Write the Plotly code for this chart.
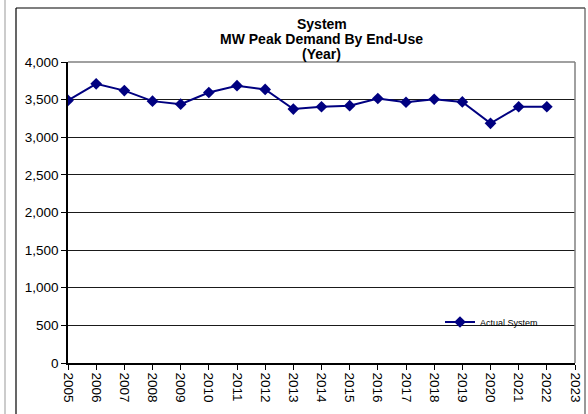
import plotly.graph_objects as go

years = list(range(2005, 2023))
actual_system = [3490, 3710, 3620, 3480, 3440, 3595, 3685, 3635, 3375, 3405,
                 3420, 3515, 3465, 3505, 3470, 3185, 3405, 3405]
x_ticks = list(range(2005, 2024))
y_ticks = [0, 500, 1000, 1500, 2000, 2500, 3000, 3500, 4000]
title_lines = ["System", "MW Peak Demand By End-Use", "(Year)"]

W, H = 588, 414
L, R, T, B = 68, 13, 62, 51
pw, ph = W - L - R, H - T - B

def px(x):
    return (x - L) / pw

def py(y):
    return (H - B - y) / ph

fig = go.Figure()
fig.add_trace(go.Scatter(
    x=years, y=actual_system, mode="lines+markers", name="Actual System",
    line=dict(color="#000080", width=2),
    marker=dict(symbol="diamond", size=9, color="#000080"),
))

annotations = []
for i, t in enumerate(title_lines):
    annotations.append(dict(
        text="<b>%s</b>" % t, xref="paper", yref="paper", x=0.5, y=py(24 + 15 * i),
        xanchor="center", yanchor="middle", showarrow=False,
        font=dict(size=14, family="Liberation Sans, Arial", color="black"),
    ))

fig.update_layout(
    width=W, height=H,
    margin=dict(l=L, r=R, t=T, b=B),
    paper_bgcolor="white", plot_bgcolor="white",
    font=dict(family="Liberation Sans, Arial", size=13, color="black"),
    annotations=annotations,
    xaxis=dict(
        range=[2005, 2023], tickvals=x_ticks, ticktext=[str(v) for v in x_ticks],
        tickangle=90, ticks="outside", ticklen=5, tickcolor="black",
        showline=True, linecolor="black", linewidth=1.5, mirror=False,
        showgrid=False, zeroline=False, automargin=False,
        tickfont=dict(size=13.5),
    ),
    yaxis=dict(
        range=[0, 4000], tickvals=y_ticks, tickformat=",",
        ticks="outside", ticklen=5, tickcolor="black",
        showline=True, linecolor="black", linewidth=1.5,
        showgrid=True, gridcolor="#1a1a1a", gridwidth=1, zeroline=False,
        automargin=False, tickfont=dict(size=13.5),
    ),
    showlegend=True,
    legend=dict(
        x=px(440), y=py(322), xanchor="left", yanchor="middle",
        bgcolor="rgba(0,0,0,0)", font=dict(size=9),
        itemwidth=30,
    ),
    shapes=[
        dict(type="line", xref="paper", yref="paper", x0=0, x1=1, y0=1, y1=1,
             line=dict(color="#808080", width=1.5)),
        dict(type="line", xref="paper", yref="paper", x0=1, x1=1, y0=0, y1=1,
             line=dict(color="#808080", width=1.5)),
        dict(type="line", xref="paper", yref="paper", x0=px(16), x1=px(585),
             y0=py(8), y1=py(8), line=dict(color="black", width=1.2)),
        dict(type="line", xref="paper", yref="paper", x0=px(16), x1=px(16),
             y0=py(8), y1=py(420), line=dict(color="black", width=1.2)),
        dict(type="line", xref="paper", yref="paper", x0=px(585), x1=px(585),
             y0=py(8), y1=py(420), line=dict(color="#555555", width=1.2)),
        dict(type="line", xref="paper", yref="paper", x0=px(5), x1=px(5),
             y0=py(0), y1=py(420), line=dict(color="#999999", width=1)),
    ],
)

fig.write_html(
    "out.html",
    config={"displayModeBar": False},
    post_script="document.body.style.margin='0';document.body.style.overflow='hidden';",
)
